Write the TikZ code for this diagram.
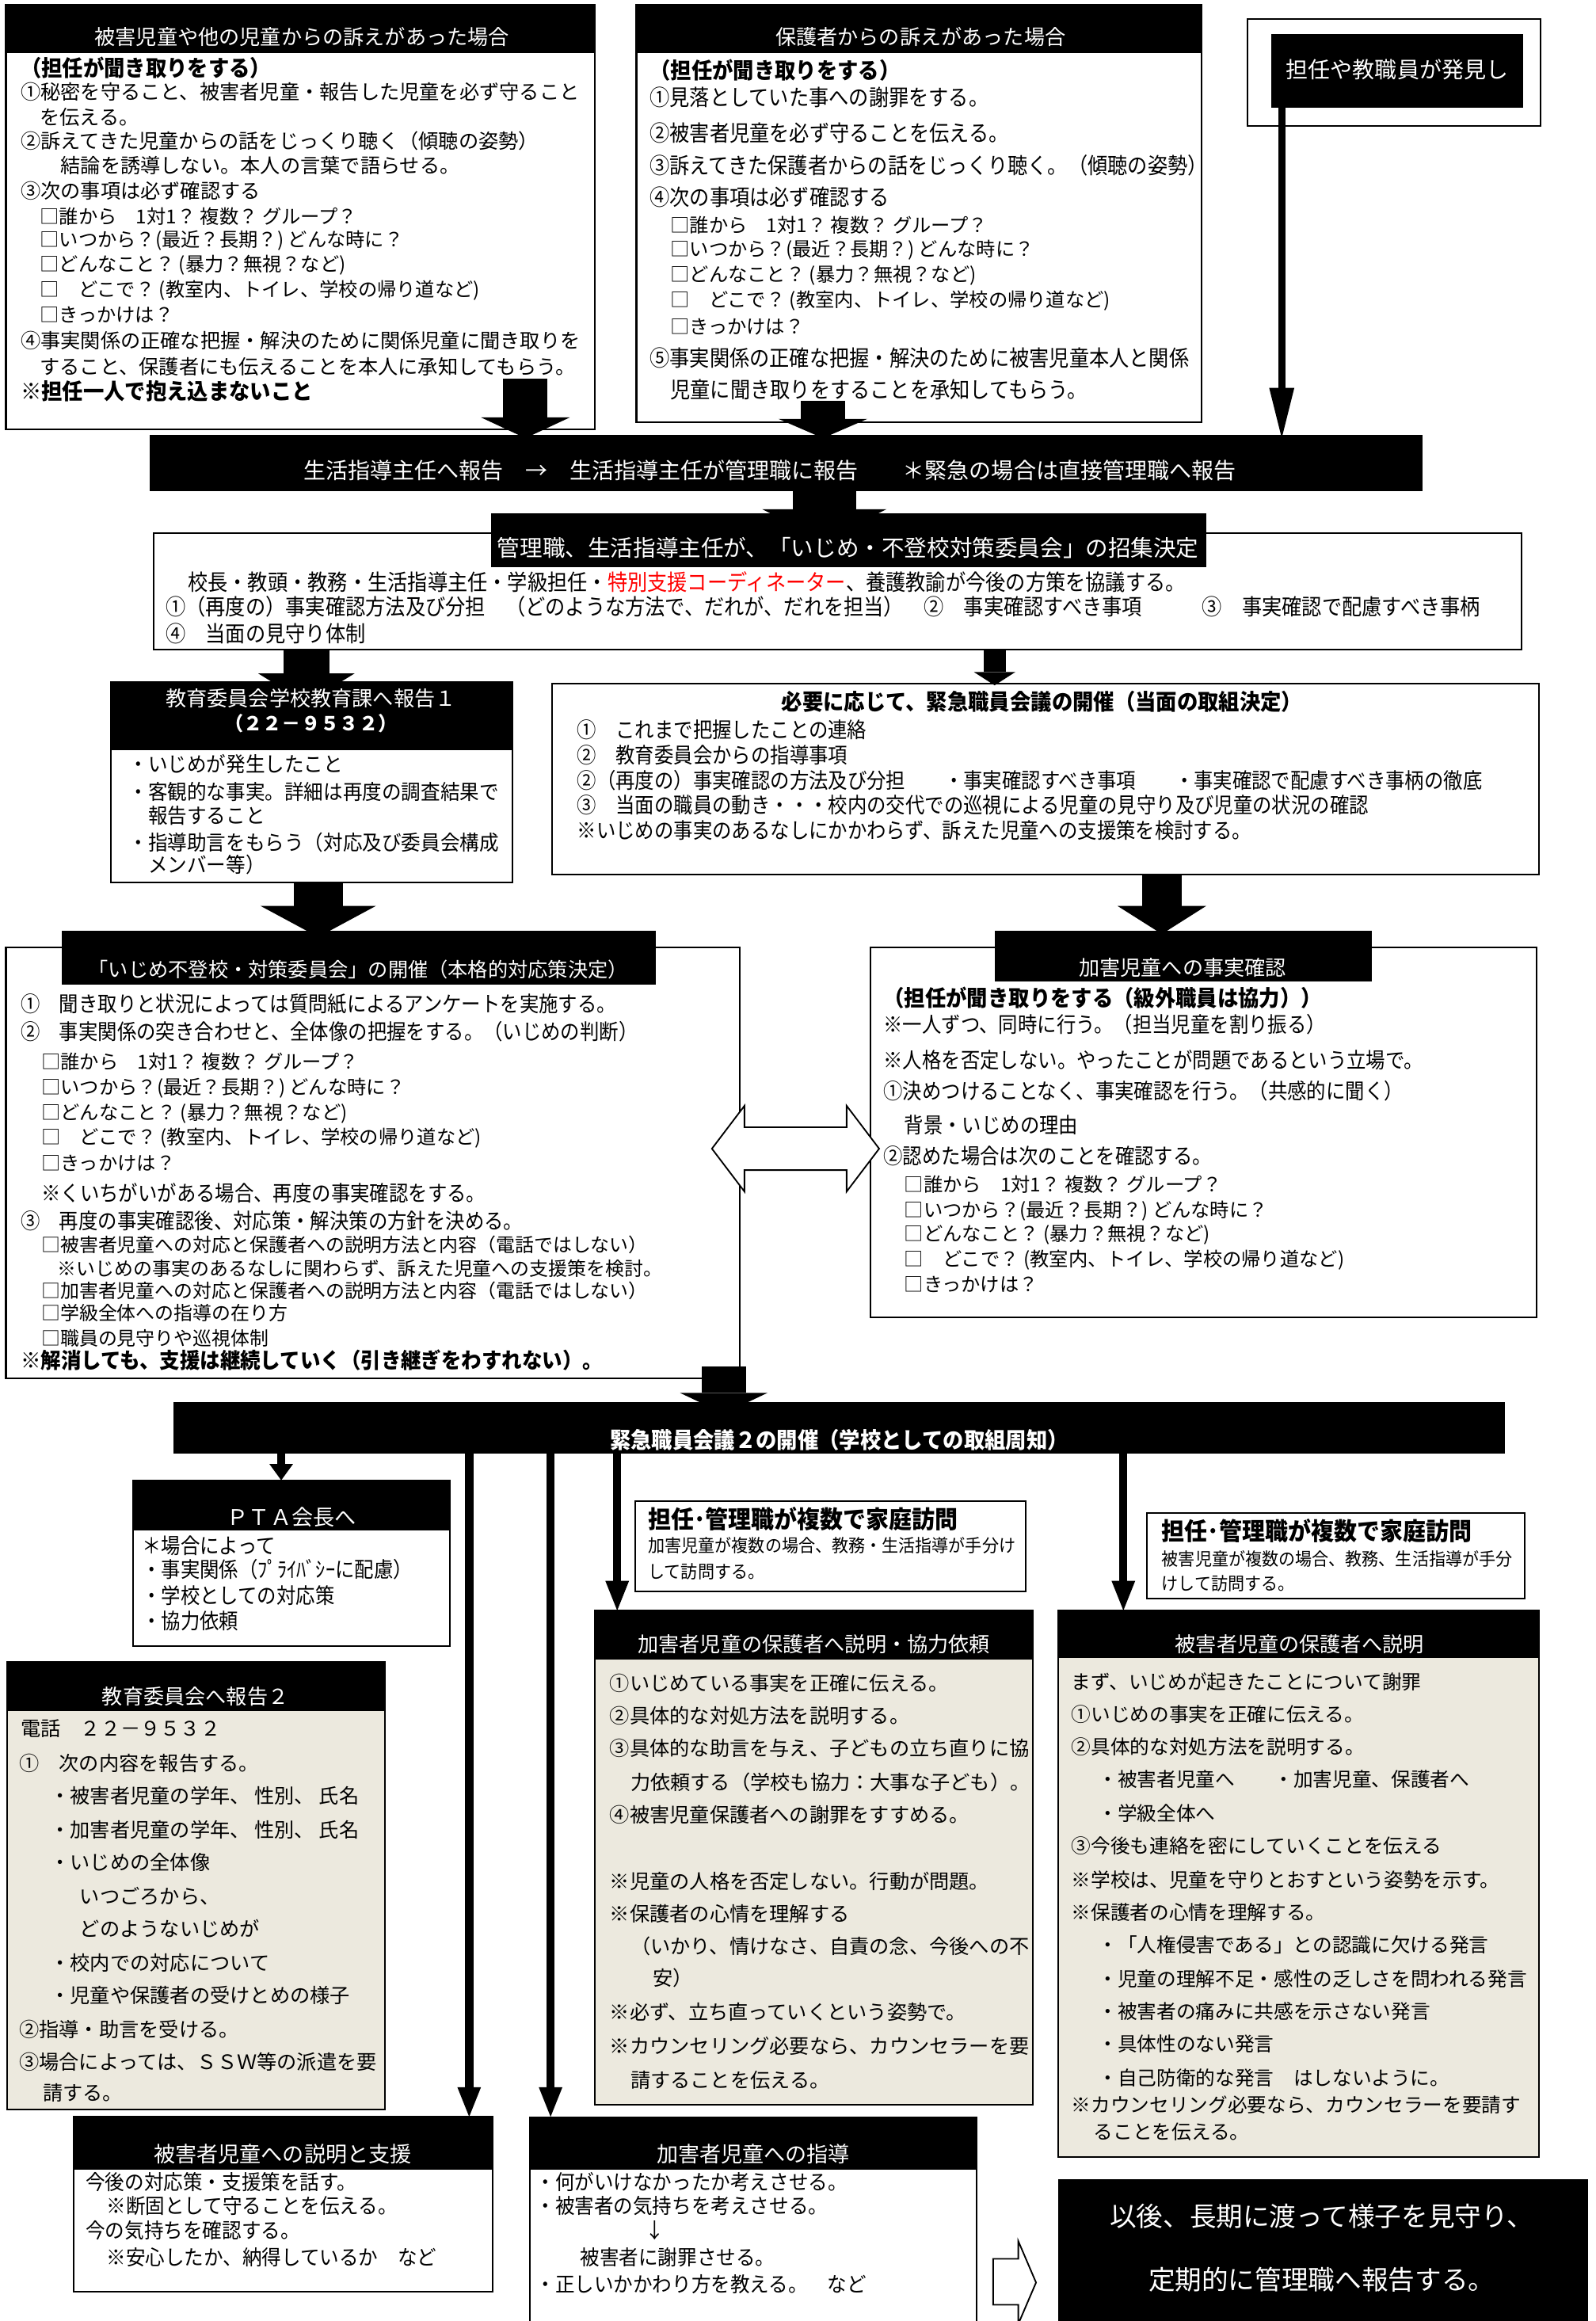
\documentclass[tikz,border=0pt]{standalone}
\usepackage{fontspec}
\setmainfont{Noto Sans CJK JP}
\newfontfamily\jc[FakeStretch=0.9]{Noto Sans CJK JP}
\newfontfamily\jd[FakeStretch=0.94]{Noto Sans CJK JP}
\usetikzlibrary{arrows.meta,calc}
\pgfdeclarelayer{bg}
\pgfdeclarelayer{arr}
\pgfsetlayers{bg,arr,main}
\definecolor{beige}{RGB}{236,233,222}
\newcommand\sz[1]{\fontsize{#1}{#1}\selectfont}
\begin{document}
\begin{tikzpicture}[x=1pt,y=-1pt,
  frame/.style={draw=black,line width=1.1pt,fill=white,inner sep=0pt,outer sep=0pt,anchor=north west},
  band/.style={fill=black,draw=none,inner sep=0pt,outer sep=0pt,anchor=north west},
  ln/.style={anchor=west,inner sep=0pt,outer sep=0pt},
  cn/.style={anchor=center,inner sep=0pt,outer sep=0pt},
  wt/.style={text=white},
  bar/.style n args={3}{line width=#1,-{Triangle[width=#2,length=#3,line width=0pt]}},
  fH/.style={font=\sz{14}},
  fA/.style={font=\sz{13.5}},
  fC/.style={font=\sz{13}},
  fBd/.style={font=\jd\bfseries\sz{15}},
  fB/.style={font=\jc\sz{15}},
  fE/.style={font=\jc\sz{15}},
  fF/.style={font=\jd\sz{14}},
  fJ/.style={font=\jc\sz{14.5}},
  fG/.style={font=\jc\sz{14.5}},
  fGs/.style={font=\sz{12.8}},
  fGb/.style={font=\jd\bfseries\sz{14.5}},
  fQ/.style={font=\jc\sz{14.5}},
  fV/.style={font=\jd\sz{12}},
  fVb/.style={font=\jd\bfseries\sz{16.5}},
  fK/.style={font=\sz{13.5}},
  fL/.style={font=\sz{13.2}},
  fN/.style={font=\jd\sz{14}},
]
\useasboundingbox (0,0) rectangle (1078,1568);

% ================= frames (bottom layer)
\begin{pgfonlayer}{bg}
\fill[white] (0,0) rectangle (1078,1568);
\node[frame,minimum width=398pt,minimum height=287pt] (A) at (4,3) {};
\node[frame,minimum width=382pt,minimum height=282pt] (B) at (430,3) {};
\node[frame,minimum width=198pt,minimum height=72pt] (C) at (843,13) {};
\node[frame,minimum width=924pt,minimum height=79pt] (E) at (104,360) {};
\node[frame,minimum width=271pt,minimum height=135pt] (F) at (75,461) {};
\node[frame,minimum width=667pt,minimum height=129pt] (J) at (373,462) {};
\node[frame,minimum width=496pt,minimum height=291pt] (G) at (4,640) {};
\node[frame,minimum width=450pt,minimum height=250pt] (I) at (588,640) {};
\node[frame,minimum width=214pt,minimum height=112pt] (Q) at (90,1000) {};
\node[frame,minimum width=264pt,minimum height=61pt] (V1) at (429,1014) {};
\node[frame,minimum width=255pt,minimum height=58pt] (V2) at (775,1022) {};
\node[frame,fill=beige,minimum width=296pt,minimum height=334pt] (K) at (402,1088) {};
\node[frame,fill=beige,minimum width=325pt,minimum height=369pt] (L) at (715,1088) {};
\node[frame,fill=beige,minimum width=255pt,minimum height=302pt] (M) at (5,1123) {};
\node[frame,minimum width=283pt,minimum height=118pt] (N) at (50,1430) {};
\node[anchor=north west,inner sep=0pt,outer sep=0pt,fill=white,minimum width=302pt,minimum height=150pt] (O) at (358,1430) {};
\draw[line width=1.1pt] (O.north west) -- (O.south west) (O.north east) -- (O.south east);
\end{pgfonlayer}

% ---------------- Box A
\node[band,minimum width=398pt,minimum height=33pt] (Ah) at (4,3) {};
\node[cn,wt,fH] (Aht) at (204,25) {被害児童や他の児童からの訴えがあった場合};
\node[ln,fBd] (a0) at (14,46) {（担任が聞き取りをする）};
\node[ln,fA] (a1) at (14,62) {①秘密を守ること、被害者児童・報告した児童を必ず守ること};
\node[ln,fA] (a2) at (27,79) {を伝える。};
\node[ln,fA] (a3) at (14,95) {②訴えてきた児童からの話をじっくり聴く（傾聴の姿勢）};
\node[ln,fA] (a4) at (41,112) {結論を誘導しない。本人の言葉で語らせる。};
\node[ln,fA] (a5) at (14,129) {③次の事項は必ず確認する};
\node[ln,fC] (a6) at (27,146) {□誰から　1対1？ 複数？ グループ？};
\node[ln,fC] (a7) at (27,162.5) {□いつから？(最近？長期？) どんな時に？};
\node[ln,fC] (a8) at (27,179) {□どんなこと？ (暴力？無視？など)};
\node[ln,fC] (a9) at (27,196) {□　どこで？ (教室内、トイレ、学校の帰り道など)};
\node[ln,fC] (a10) at (27,213) {□きっかけは？};
\node[ln,fA] (a11) at (14,230) {④事実関係の正確な把握・解決のために関係児童に聞き取りを};
\node[ln,fA] (a12) at (27,248) {すること、保護者にも伝えることを本人に承知してもらう。};
\node[ln,fBd] (a13) at (14,264) {※担任一人で抱え込まないこと};

% ---------------- Box B
\node[band,minimum width=382pt,minimum height=33pt] (Bh) at (430,3) {};
\node[cn,wt,fH] (Bht) at (622,25) {保護者からの訴えがあった場合};
\node[ln,fBd] (b0) at (439,47.5) {（担任が聞き取りをする）};
\node[ln,fB] (b1) at (439,66) {①見落としていた事への謝罪をする。};
\node[ln,fB] (b2) at (439,90) {②被害者児童を必ず守ることを伝える。};
\node[ln,fB] (b3) at (439,112) {③訴えてきた保護者からの話をじっくり聴く。（傾聴の姿勢）};
\node[ln,fB] (b4) at (439,133) {④次の事項は必ず確認する};
\node[ln,fC] (b5) at (453,152) {□誰から　1対1？ 複数？ グループ？};
\node[ln,fC] (b6) at (453,169) {□いつから？(最近？長期？) どんな時に？};
\node[ln,fC] (b7) at (453,186) {□どんなこと？ (暴力？無視？など)};
\node[ln,fC] (b8) at (453,203) {□　どこで？ (教室内、トイレ、学校の帰り道など)};
\node[ln,fC] (b9) at (453,221) {□きっかけは？};
\node[ln,fB] (b10) at (439,242) {⑤事実関係の正確な把握・解決のために被害児童本人と関係};
\node[ln,fB] (b11) at (453,263.5) {児童に聞き取りをすることを承知してもらう。};

% ---------------- Box C
\node[band,minimum width=170pt,minimum height=50pt] (C2) at (859,23) {};
\node[cn,wt,font=\sz{15}] (Ct) at (944,47) {担任や教職員が発見し};

% ---------------- Banner D
\node[band,minimum width=860pt,minimum height=38pt] (D) at (101,294) {};
\node[cn,wt,font=\sz{15}] (Dt) at (520,318) {生活指導主任へ報告　→　生活指導主任が管理職に報告　　＊緊急の場合は直接管理職へ報告};

% ---------------- Box E
\node[band,minimum width=483pt,minimum height=36pt] (Eh) at (332,347) {};
\node[cn,wt,font=\sz{15.3}] (Et) at (573,370) {管理職、生活指導主任が、「いじめ・不登校対策委員会」の招集決定};
\node[ln,fE] (e1) at (127,393) {校長・教頭・教務・生活指導主任・学級担任・\textcolor{red}{特別支援コーディネーター}、養護教諭が今後の方策を協議する。};
\node[ln,fE] (e2) at (112,410) {①（再度の）事実確認方法及び分担　（どのような方法で、だれが、だれを担当）　②　事実確認すべき事項　　　③　事実確認で配慮すべき事柄};
\node[ln,fE] (e3) at (112,428) {④　当面の見守り体制};

% ---------------- Box F
\node[band,minimum width=271pt,minimum height=46pt] (Fh) at (75,461) {};
\node[cn,wt,font=\sz{14}] (Ft1) at (210,472) {教育委員会学校教育課へ報告１};
\node[cn,wt,font=\bfseries\sz{13}] (Ft2) at (210,489) {（２２－９５３２）};
\node[ln,fF] (f1) at (87,516) {・いじめが発生したこと};
\node[ln,fF] (f2) at (87,535) {・客観的な事実。詳細は再度の調査結果で};
\node[ln,fF] (f3) at (87,551) {　報告すること};
\node[ln,fF] (f4) at (87,569) {・指導助言をもらう（対応及び委員会構成};
\node[ln,fF] (f5) at (87,584) {　メンバー等）};

% ---------------- Box J
\node[cn,font=\jd\bfseries\sz{15}] (Jt) at (704,474) {必要に応じて、緊急職員会議の開催（当面の取組決定）};
\node[ln,fJ] (j1) at (390,493) {①　これまで把握したことの連絡};
\node[ln,fJ] (j2) at (390,510) {②　教育委員会からの指導事項};
\node[ln,fJ] (j3) at (390,527) {②（再度の）事実確認の方法及び分担　　・事実確認すべき事項　　・事実確認で配慮すべき事柄の徹底};
\node[ln,fJ] (j4) at (390,544) {③　当面の職員の動き・・・校内の交代での巡視による児童の見守り及び児童の状況の確認};
\node[ln,fJ] (j5) at (390,561) {※いじめの事実のあるなしにかかわらず、訴えた児童への支援策を検討する。};

% ---------------- Box G
\node[band,minimum width=401pt,minimum height=36pt] (Gh) at (42,629) {};
\node[cn,wt,font=\sz{13.5}] (Gt) at (242,655) {「いじめ不登校・対策委員会」の開催（本格的対応策決定）};
\node[ln,fG] (g1) at (14,678) {①　聞き取りと状況によっては質問紙によるアンケートを実施する。};
\node[ln,fG] (g2) at (14,697) {②　事実関係の突き合わせと、全体像の把握をする。（いじめの判断）};
\node[ln,fC] (g3) at (28,717) {□誰から　1対1？ 複数？ グループ？};
\node[ln,fC] (g4) at (28,735) {□いつから？(最近？長期？) どんな時に？};
\node[ln,fC] (g5) at (28,752) {□どんなこと？ (暴力？無視？など)};
\node[ln,fC] (g6) at (28,769) {□　どこで？ (教室内、トイレ、学校の帰り道など)};
\node[ln,fC] (g7) at (28,786) {□きっかけは？};
\node[ln,fG] (g8) at (28,806) {※くいちがいがある場合、再度の事実確認をする。};
\node[ln,fG] (g9) at (14,825) {③　再度の事実確認後、対応策・解決策の方針を決める。};
\node[ln,fGs] (g10) at (28,841) {□被害者児童への対応と保護者への説明方法と内容（電話ではしない）};
\node[ln,fGs] (g11) at (39,857) {※いじめの事実のあるなしに関わらず、訴えた児童への支援策を検討。};
\node[ln,fGs] (g12) at (28,872) {□加害者児童への対応と保護者への説明方法と内容（電話ではしない）};
\node[ln,fGs] (g13) at (28,887) {□学級全体への指導の在り方};
\node[ln,fGs] (g14) at (28,904) {□職員の見守りや巡視体制};
\node[ln,fGb] (g15) at (14,919) {※解消しても、支援は継続していく（引き継ぎをわすれない）。};

% ---------------- Box I
\node[band,minimum width=255pt,minimum height=34pt] (Ih) at (672,629) {};
\node[cn,wt,font=\sz{14}] (It) at (799,654) {加害児童への事実確認};
\node[ln,fBd] (i0) at (597,674) {（担任が聞き取りをする（級外職員は協力））};
\node[ln,fG] (i1) at (597,692) {※一人ずつ、同時に行う。（担当児童を割り振る）};
\node[ln,fG] (i2) at (597,716) {※人格を否定しない。やったことが問題であるという立場で。};
\node[ln,fG] (i3) at (597,737) {①決めつけることなく、事実確認を行う。（共感的に聞く）};
\node[ln,fG] (i4) at (611,760) {背景・いじめの理由};
\node[ln,fG] (i5) at (597,781) {②認めた場合は次のことを確認する。};
\node[ln,fC] (i6) at (611,800) {□誰から　1対1？ 複数？ グループ？};
\node[ln,fC] (i7) at (611,818) {□いつから？(最近？長期？) どんな時に？};
\node[ln,fC] (i8) at (611,834) {□どんなこと？ (暴力？無視？など)};
\node[ln,fC] (i9) at (611,851) {□　どこで？ (教室内、トイレ、学校の帰り道など)};
\node[ln,fC] (i10) at (611,868) {□きっかけは？};

% ---------------- Banner H
\node[band,minimum width=900pt,minimum height=35pt] (H) at (117,947) {};
\node[cn,wt,font=\jd\bfseries\sz{15}] (Ht) at (567,973) {緊急職員会議２の開催（学校としての取組周知）};

% ---------------- PTA
\node[band,minimum width=214pt,minimum height=34pt] (Qh) at (90,1000) {};
\node[cn,wt,font=\sz{14.5}] (Qt) at (197,1025) {ＰＴＡ会長へ};
\node[ln,fQ] (q1) at (96,1044) {＊場合によって};
\node[ln,fQ] (q2) at (96,1060) {・事実関係（ﾌﾟﾗｲﾊﾞｼｰに配慮）};
\node[ln,fQ] (q3) at (96,1078) {・学校としての対応策};
\node[ln,fQ] (q4) at (96,1095) {・協力依頼};

% ---------------- home visit boxes
\node[ln,fVb] (v11) at (438,1026) {担任･管理職が複数で家庭訪問};
\node[ln,fV] (v12) at (438,1044) {加害児童が複数の場合、教務・生活指導が手分け};
\node[ln,fV] (v13) at (438,1062) {して訪問する。};
\node[ln,fVb] (v21) at (785,1034) {担任･管理職が複数で家庭訪問};
\node[ln,fV] (v22) at (785,1053) {被害児童が複数の場合、教務、生活指導が手分};
\node[ln,fV] (v23) at (785,1070) {けして訪問する。};

% ---------------- Box K
\node[band,minimum width=296pt,minimum height=33pt] (Kh) at (402,1088) {};
\node[cn,wt,font=\sz{14}] (Kt) at (550,1111) {加害者児童の保護者へ説明・協力依頼};
\node[ln,fK] (k1) at (412,1137) {①いじめている事実を正確に伝える。};
\node[ln,fK] (k2) at (412,1159) {②具体的な対処方法を説明する。};
\node[ln,fK] (k3) at (412,1181) {③具体的な助言を与え、子どもの立ち直りに協};
\node[ln,fK] (k4) at (426,1204) {力依頼する（学校も協力：大事な子ども）。};
\node[ln,fK] (k5) at (412,1226) {④被害児童保護者への謝罪をすすめる。};
\node[ln,fK] (k6) at (412,1271) {※児童の人格を否定しない。行動が問題。};
\node[ln,fK] (k7) at (412,1293) {※保護者の心情を理解する};
\node[ln,fK] (k8) at (426,1315) {（いかり、情けなさ、自責の念、今後への不};
\node[ln,fK] (k9) at (441,1336) {安）};
\node[ln,fK] (k10) at (412,1359) {※必ず、立ち直っていくという姿勢で。};
\node[ln,fK] (k11) at (412,1382) {※カウンセリング必要なら、カウンセラーを要};
\node[ln,fK] (k12) at (426,1405) {請することを伝える。};

% ---------------- Box L
\node[band,minimum width=325pt,minimum height=32pt] (Lh) at (715,1088) {};
\node[cn,wt,font=\sz{14}] (Lt) at (878,1111) {被害者児童の保護者へ説明};
\node[ln,fL] (l1) at (724,1136) {まず、いじめが起きたことについて謝罪};
\node[ln,fL] (l2) at (724,1158) {①いじめの事実を正確に伝える。};
\node[ln,fL] (l3) at (724,1180) {②具体的な対処方法を説明する。};
\node[ln,fL] (l4) at (742,1202) {・被害者児童へ　　・加害児童、保護者へ};
\node[ln,fL] (l5) at (742,1225) {・学級全体へ};
\node[ln,fL] (l6) at (724,1247) {③今後も連絡を密にしていくことを伝える};
\node[ln,fL] (l7) at (724,1270) {※学校は、児童を守りとおすという姿勢を示す。};
\node[ln,fL] (l8) at (724,1292) {※保護者の心情を理解する。};
\node[ln,fL] (l9) at (742,1314) {・「人権侵害である」との認識に欠ける発言};
\node[ln,fL] (l10) at (742,1337) {・児童の理解不足・感性の乏しさを問われる発言};
\node[ln,fL] (l11) at (742,1359) {・被害者の痛みに共感を示さない発言};
\node[ln,fL] (l12) at (742,1381) {・具体性のない発言};
\node[ln,fL] (l13) at (742,1404) {・自己防衛的な発言　はしないように。};
\node[ln,fL] (l14) at (724,1422) {※カウンセリング必要なら、カウンセラーを要請す};
\node[ln,fL] (l15) at (739,1440) {ることを伝える。};

% ---------------- Box M
\node[band,minimum width=255pt,minimum height=33pt] (Mh) at (5,1123) {};
\node[cn,wt,font=\sz{14}] (Mt) at (132,1146) {教育委員会へ報告２};
\node[ln,fK] (m1) at (14,1168) {電話　２２－９５３２};
\node[ln,fK] (m2) at (13,1191) {①　次の内容を報告する。};
\node[ln,fK] (m3) at (34,1213) {・被害者児童の学年、 性別、 氏名};
\node[ln,fK] (m4) at (34,1236) {・加害者児童の学年、 性別、 氏名};
\node[ln,fK] (m5) at (34,1258) {・いじめの全体像};
\node[ln,fK] (m6) at (54,1281) {いつごろから、};
\node[ln,fK] (m7) at (54,1303) {どのようないじめが};
\node[ln,fK] (m8) at (34,1326) {・校内での対応について};
\node[ln,fK] (m9) at (34,1348) {・児童や保護者の受けとめの様子};
\node[ln,fK] (m10) at (13,1371) {②指導・助言を受ける。};
\node[ln,fK] (m11) at (13,1393) {③場合によっては、ＳＳＷ等の派遣を要};
\node[ln,fK] (m12) at (29,1414) {請する。};

% ---------------- Box N
\node[band,minimum width=283pt,minimum height=36pt] (Nh) at (50,1430) {};
\node[cn,wt,font=\sz{14.5}] (Nt) at (191,1455) {被害者児童への説明と支援};
\node[ln,fN] (n1) at (58,1474) {今後の対応策・支援策を話す。};
\node[ln,fN] (n2) at (72,1490) {※断固として守ることを伝える。};
\node[ln,fN] (n3) at (58,1507) {今の気持ちを確認する。};
\node[ln,fN] (n4) at (72,1525) {※安心したか、納得しているか　など};

% ---------------- Box O
\node[band,minimum width=302pt,minimum height=36pt] (Oh) at (358,1430) {};
\node[cn,wt,font=\sz{14.5}] (Ot) at (509,1455) {加害者児童への指導};
\node[ln,fN] (o1) at (362,1474) {・何がいけなかったか考えさせる。};
\node[ln,fN] (o2) at (362,1490) {・被害者の気持ちを考えさせる。};
\node[ln,fN] (o3) at (436,1507) {↓};
\node[ln,fN] (o4) at (392,1525) {被害者に謝罪させる。};
\node[ln,fN] (o5) at (362,1543) {・正しいかかわり方を教える。　など};

% ---------------- Box P
\node[band,minimum width=358pt,minimum height=110pt] (P) at (715,1472) {};
\node[cn,wt,font=\sz{18}] (Pt1) at (893,1497) {以後、長期に渡って様子を見守り、};
\node[cn,wt,font=\sz{18}] (Pt2) at (893,1540) {定期的に管理職へ報告する。};

% ================= connectors (middle layer)
\coordinate (xa) at (355,0);
\coordinate (xb) at (556,0);
\coordinate (xc) at (866,0);
\coordinate (xd) at (557,0);
\coordinate (xe) at (207,0);
\coordinate (xf) at (672,0);
\coordinate (xg) at (215,0);
\coordinate (xi) at (785,0);
\coordinate (xh) at (489,0);
\coordinate (x1) at (190,0);
\coordinate (x2) at (317,0);
\coordinate (x3) at (372,0);
\coordinate (x4) at (417,0);
\coordinate (x5) at (759,0);
\begin{pgfonlayer}{arr}
\draw[bar={30pt}{60pt}{14pt}] ($(A.south -| xa)+(0,-34)$) -- ($(D.north -| xa)+(0,2)$);
\draw[bar={30pt}{60pt}{13pt}] ($(B.south -| xb)+(0,-14)$) -- ($(D.north -| xb)+(0,2)$);
\draw[bar={5pt}{17pt}{34pt}] (C2.south -| xc) -- ($(D.north -| xc)+(0,2)$);
\draw[bar={43pt}{84pt}{21pt}] (D.south -| xd) -- ($(Eh.north -| xd)+(0,18)$);
\draw[bar={31pt}{65pt}{20pt}] (E.south -| xe) -- ($(Fh.north -| xe)+(0,14)$);
\draw[bar={15pt}{28pt}{9pt}] (E.south -| xf) -- ($(J.north -| xf)+(0,1)$);
\draw[bar={33pt}{78pt}{21pt}] (F.south -| xg) -- ($(Gh.north -| xg)+(0,4)$);
\draw[bar={27pt}{60pt}{19pt}] (J.south -| xi) -- ($(Ih.north -| xi)+(0,2)$);
\draw[bar={30pt}{59pt}{14pt}] ($(G.south -| xh)+(0,-8)$) -- ($(H.north -| xh)+(0,8)$);
\draw[bar={5.5pt}{16pt}{11pt}] (H.south -| x1) -- (Qh.north -| x1);
\draw[bar={5.5pt}{16pt}{20pt}] (H.south -| x2) -- (Nh.north -| x2);
\draw[bar={5.5pt}{16pt}{20pt}] (H.south -| x3) -- (Oh.north -| x3);
\draw[bar={5.5pt}{16pt}{20pt}] (H.south -| x4) -- (Kh.north -| x4);
\draw[bar={5.5pt}{16pt}{20pt}] (H.south -| x5) -- (Lh.north -| x5);
% double white arrow between G and I
\draw[fill=white,line width=1pt] (481,776) -- (503,747) -- (503,761.5) -- (572,761.5) -- (572,747) -- (594,776) -- (572,805) -- (572,790.5) -- (503,790.5) -- (503,805) -- cycle;
% white right arrow O -> P
\draw[fill=white,line width=1pt] (671,1526) -- (688,1526) -- (688,1514) -- (700,1542) -- (688,1570) -- (688,1557) -- (671,1557) -- cycle;
\end{pgfonlayer}
\end{tikzpicture}
\end{document}
